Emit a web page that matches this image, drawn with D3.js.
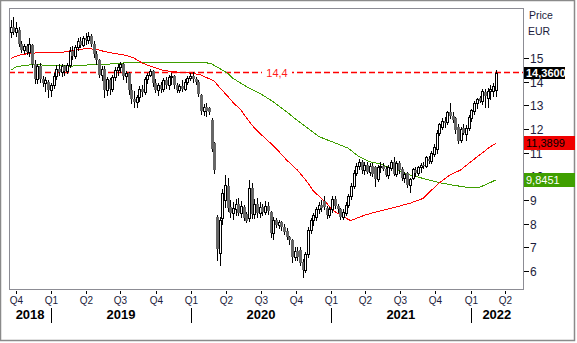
<!DOCTYPE html>
<html>
<head>
<meta charset="utf-8">
<script src="https://cdn.jsdelivr.net/npm/d3@7"></script>
<style>
  html, body { margin: 0; padding: 0; background: #fff; }
  svg { display: block; }
  text { font-family: "Liberation Sans", Arial, sans-serif; }
</style>
</head>
<body>
<svg id="chart" width="577" height="343"></svg>
<script>
// Weekly candles, first week starting Monday 2018-09-17
const firstWeek = "2018-09-17";

const opens = [
  16.10,16.30,16.10,16.20,15.60,15.35,15.50,15.25,15.55,14.75,
  14.10,14.65,14.10,13.95,14.00,13.65,13.85,14.25,14.55,14.40,
  14.65,14.45,14.70,15.30,15.10,15.45,15.70,15.55,15.85,15.75,
  15.95,15.60,15.15,14.90,14.30,14.55,13.65,14.05,13.70,14.20,
  14.50,14.60,14.75,14.25,14.35,13.65,13.25,13.15,13.35,13.70,
  13.55,14.10,14.30,14.45,13.95,13.65,13.85,13.70,14.05,13.85,
  14.20,14.25,13.85,13.65,13.80,13.70,14.00,14.15,14.25,14.10,
  14.00,13.45,12.75,12.95,12.90,12.40,11.40,8.30,6.75,8.25,
  9.00,9.60,8.70,8.45,8.60,8.85,8.45,8.70,8.40,8.25,
  9.50,8.40,8.85,8.45,8.70,8.50,8.75,8.50,7.60,8.15,
  7.95,8.05,7.85,7.70,7.45,7.30,6.60,6.85,6.90,6.40,
  6.05,6.70,7.75,8.15,8.30,8.60,8.80,8.95,8.65,8.35,
  8.60,9.05,8.75,8.60,8.30,8.45,8.80,9.15,9.60,10.15,
  10.45,10.60,10.25,10.50,10.20,10.45,10.40,9.90,10.40,10.45,
  10.30,10.05,10.35,10.60,10.10,10.55,10.30,9.95,10.15,9.65,
  9.95,10.25,10.15,10.40,10.50,10.45,10.75,10.65,10.95,11.15,
  11.85,12.10,12.35,12.30,12.70,12.55,12.45,12.10,11.55,12.05,
  11.80,12.05,12.45,12.75,13.10,13.30,13.20,13.55,13.30,13.60,
  13.60,13.65
];
const highs = [
  16.60,16.75,16.50,16.30,15.70,15.60,15.60,15.85,15.60,14.90,
  14.75,14.80,14.25,14.20,14.05,13.95,14.35,14.70,14.75,14.75,
  14.70,14.80,15.45,15.50,15.55,15.85,15.90,15.95,16.05,16.10,
  16.00,15.70,15.30,14.95,14.65,14.65,14.20,14.15,14.30,14.60,
  14.75,14.85,14.80,14.45,14.40,13.90,13.60,13.45,13.80,13.85,
  14.20,14.35,14.55,14.50,14.10,13.95,14.00,14.15,14.20,14.30,
  14.35,14.30,13.95,13.90,14.05,14.10,14.25,14.35,14.40,14.20,
  14.05,13.50,13.05,13.10,12.95,12.45,11.45,8.35,8.30,9.45,
  10.05,9.95,9.00,8.90,9.05,9.10,8.95,8.80,8.50,9.85,
  9.70,9.05,9.10,8.90,8.85,8.95,8.90,8.55,8.30,8.25,
  8.15,8.10,8.00,7.80,7.50,7.35,7.00,7.00,7.00,6.50,
  6.80,7.85,8.25,8.45,8.70,8.90,9.00,9.15,8.75,8.70,
  9.15,9.15,8.85,8.65,8.60,8.90,9.25,9.70,10.25,10.55,
  10.75,10.70,10.60,10.60,10.55,10.55,10.45,10.50,10.60,10.55,
  10.45,10.50,10.70,10.80,10.65,10.65,10.40,10.20,10.20,9.95,
  10.35,10.40,10.45,10.55,10.60,10.85,10.85,11.05,11.35,11.95,
  12.25,12.45,12.50,12.75,13.10,12.70,12.50,12.20,12.10,12.20,
  12.15,12.60,12.85,13.20,13.30,13.40,13.70,13.70,13.75,13.85,
  13.95,14.50
];
const lows = [
  15.90,16.00,15.95,15.50,15.25,15.20,15.15,15.10,14.60,13.95,
  13.95,14.00,13.80,13.60,13.35,13.40,13.75,14.10,14.30,14.25,
  14.30,14.35,14.60,14.95,15.00,15.35,15.45,15.50,15.60,15.65,
  15.50,15.05,14.75,14.20,14.05,13.35,13.45,13.50,13.60,14.05,
  14.30,14.40,14.10,14.00,13.50,13.10,12.95,12.95,13.20,13.40,
  13.50,13.95,14.25,13.80,13.55,13.45,13.55,13.60,13.75,13.70,
  13.90,13.75,13.55,13.55,13.60,13.65,13.90,14.05,14.00,13.90,
  13.40,12.65,12.60,12.55,12.65,11.05,10.15,6.45,6.25,8.00,
  8.70,8.55,8.30,8.20,8.35,8.35,8.30,8.15,8.05,8.10,
  8.25,8.25,8.30,8.30,8.35,8.40,8.40,7.45,7.35,7.85,
  7.80,7.75,7.55,7.35,7.15,6.40,6.45,6.45,6.25,5.75,
  5.95,6.60,7.60,7.95,8.15,8.45,8.55,8.60,8.25,8.30,
  8.50,8.65,8.50,8.20,8.20,8.35,8.70,9.05,9.50,10.05,
  10.30,10.15,10.10,10.15,10.05,10.00,9.60,9.80,10.20,10.25,
  10.00,9.95,10.25,10.05,10.00,10.15,9.85,9.75,9.55,9.35,
  9.90,10.00,10.05,10.20,10.35,10.40,10.55,10.55,10.85,11.00,
  11.75,12.00,12.10,12.20,12.45,12.30,11.85,11.40,11.45,11.80,
  11.55,11.95,12.35,12.65,12.90,13.15,13.05,12.95,12.95,13.25,
  13.40,13.40
];
const closes = [
  16.30,16.10,16.25,15.60,15.35,15.50,15.25,15.60,14.75,14.10,
  14.65,14.10,13.95,14.05,13.65,13.85,14.25,14.55,14.40,14.65,
  14.45,14.70,15.30,15.10,15.45,15.70,15.55,15.85,15.75,15.95,
  15.60,15.15,14.90,14.30,14.55,13.65,14.10,13.70,14.20,14.50,
  14.60,14.75,14.25,14.35,13.65,13.25,13.15,13.35,13.70,13.55,
  14.10,14.30,14.45,13.95,13.65,13.85,13.70,14.05,13.85,14.20,
  14.25,13.85,13.65,13.80,13.70,14.00,14.15,14.25,14.10,14.00,
  13.50,12.75,12.95,12.75,12.70,11.15,10.25,6.95,8.15,9.30,
  9.65,8.65,8.45,8.65,8.85,8.45,8.75,8.25,8.10,9.50,
  8.40,8.85,8.45,8.70,8.50,8.75,8.55,7.60,8.15,7.95,
  8.05,7.85,7.65,7.45,7.30,6.60,6.85,6.60,6.35,6.05,
  6.70,7.75,8.15,8.35,8.60,8.80,8.65,8.70,8.35,8.60,
  9.05,8.75,8.60,8.30,8.50,8.80,9.15,9.60,10.15,10.45,
  10.60,10.25,10.50,10.20,10.45,10.10,9.90,10.40,10.45,10.30,
  10.05,10.40,10.60,10.10,10.55,10.25,9.95,10.10,9.65,9.90,
  10.30,10.15,10.40,10.50,10.45,10.80,10.65,11.00,11.25,11.85,
  12.20,12.35,12.25,12.70,12.55,12.40,11.95,11.50,12.00,11.85,
  12.05,12.50,12.80,13.10,13.25,13.20,13.60,13.40,13.60,13.70,
  13.80,14.36
];

// Moving averages, sampled at week numbers
const fastWeeks = [0,2,4,9,14,19,21,25,29,33,35,39,43,46,49,53,57,62,68,71,73,76,78,81,83,86,88,91,93,99,
  103,107,111,113,116,118,120,123,126,127,130,133,138,142,149,154,156,160,164,168,171,175,179,181];
const fastMA = [14.98,15.07,15.15,15.21,15.23,15.23,15.28,15.36,15.40,15.34,15.27,15.19,15.11,15.00,14.79,
  14.62,14.47,14.41,14.35,14.28,14.18,14.03,13.75,13.39,13.12,12.80,12.47,12.04,11.82,11.19,
  10.69,10.27,9.72,9.38,9.07,8.86,8.58,8.37,8.18,8.13,8.27,8.39,8.54,8.65,8.86,
  9.07,9.30,9.72,10.06,10.27,10.55,10.90,11.25,11.3899];
const slowWeeks = [0,2,5,9,14,19,22,26,31,35,39,43,46,52,63,73,75,78,81,83,88,93,98,103,106,
  111,115,120,126,130,134,138,142,149,155,160,165,170,175,178,181];
const slowMA = [14.48,14.62,14.69,14.72,14.69,14.68,14.65,14.69,14.72,14.73,14.76,14.80,14.83,14.83,14.81,
  14.80,14.75,14.56,14.35,14.14,13.79,13.51,13.15,12.73,12.45,
  12.03,11.68,11.46,11.19,10.83,10.62,10.52,10.34,10.06,9.88,9.73,9.63,9.54,9.54,9.68,9.8451];

// Horizontal level line
const levels = [14.4];

// Axis labels
const priceTicks = [6,7,8,9,10,11,12,13,14,15];
const quarterStarts = ["2018-10-01","2019-01-01","2019-04-01","2019-07-01","2019-10-01",
  "2020-01-01","2020-04-01","2020-07-01","2020-10-01","2021-01-01","2021-04-01","2021-07-01",
  "2021-10-01","2022-01-01","2022-04-01"];
const quarterLabels = ["Q4","Q1","Q2","Q3","Q4","Q1","Q2","Q3","Q4","Q1","Q2","Q3","Q4","Q1","Q2"];
const yearLabels = ["2018","2019","2020","2021","2022"];
const axisTitle = ["Price","EUR"];

// ---------------------------------------------------------------
const svg = d3.select("#chart");
const W = 577, H = 343;
const plot = { left: 9, top: 8, right: 523, bottom: 289 };
const parse = d3.timeParse("%Y-%m-%d");
const start = parse(firstWeek);
const weekDate = i => d3.timeDay.offset(start, 7 * i);

const x = d3.scaleTime()
  .domain([parse("2018-10-01"), parse("2022-01-01")])
  .range([16, 470.7]);
const y = d3.scaleLinear().domain([6, 15]).range([271, 58]);

const loc = d3.formatLocale({ decimal: ",", thousands: ".", grouping: [3], currency: ["", " €"] });
const f4 = loc.format(".4f"), f1 = loc.format(".1f");

// outer frame
svg.append("rect").attr("x", 0).attr("y", 0).attr("width", W).attr("height", H).attr("fill", "#fff");
svg.append("rect").attr("x", 0.5).attr("y", 0.5).attr("width", 574).attr("height", 340)
  .attr("fill", "none").attr("stroke", "#8a8a8a").attr("stroke-width", 1.5);

// plot frame
svg.append("rect")
  .attr("x", plot.left + 0.5).attr("y", plot.top + 0.5)
  .attr("width", plot.right - plot.left).attr("height", plot.bottom - plot.top)
  .attr("fill", "#fff").attr("stroke", "#8c8c94").attr("stroke-width", 1);

svg.append("clipPath").attr("id", "plotclip").append("rect")
  .attr("x", plot.left + 1).attr("y", plot.top + 1)
  .attr("width", plot.right - plot.left - 1).attr("height", plot.bottom - plot.top - 1);

const g = svg.append("g").attr("clip-path", "url(#plotclip)");

// level line with its label
levels.forEach(v => {
  const ly = Math.round(y(v)) + 0.5;
  g.append("line").attr("x1", plot.left).attr("x2", plot.right).attr("y1", ly).attr("y2", ly)
    .attr("stroke", "#ff0000").attr("stroke-width", 1.6).attr("stroke-dasharray", "6,3");
  g.append("rect").attr("x", 262).attr("y", ly - 7).attr("width", 30).attr("height", 14).attr("fill", "#fff");
  g.append("text").attr("x", 277).attr("y", ly + 4).attr("text-anchor", "middle")
    .attr("font-size", 11).attr("fill", "#ff1a1a").text(f1(v));
});

// moving averages
const maLine = d3.line().x(d => x(weekDate(d[0]))).y(d => y(d[1]));
g.append("path").datum(slowWeeks.map((w, i) => [w, slowMA[i]]))
  .attr("d", maLine).attr("fill", "none").attr("stroke", "#3f9f00").attr("stroke-width", 1)
  .attr("shape-rendering", "crispEdges");
g.append("path").datum(fastWeeks.map((w, i) => [w, fastMA[i]]))
  .attr("d", maLine).attr("fill", "none").attr("stroke", "#ff0000").attr("stroke-width", 1)
  .attr("shape-rendering", "crispEdges");

// candles
const candles = closes.map((c, i) => ({ date: weekDate(i), o: opens[i], h: highs[i], l: lows[i], c }));
const cg = g.append("g").attr("shape-rendering", "crispEdges");
candles.forEach(d => {
  const cx = Math.round(x(d.date));
  cg.append("line").attr("x1", cx + 0.5).attr("x2", cx + 0.5)
    .attr("y1", Math.round(y(d.h))).attr("y2", Math.round(y(d.l)) + 1)
    .attr("stroke", "#000").attr("stroke-width", 1);
  const yTop = Math.round(y(Math.max(d.o, d.c)));
  const yBot = Math.round(y(Math.min(d.o, d.c)));
  if (d.c >= d.o) {
    cg.append("rect").attr("x", cx - 0.5).attr("y", yTop + 0.5)
      .attr("width", 2).attr("height", Math.max(yBot - yTop, 1))
      .attr("fill", "#fff").attr("stroke", "#000").attr("stroke-width", 1);
  } else {
    cg.append("rect").attr("x", cx - 1).attr("y", yTop)
      .attr("width", 3).attr("height", Math.max(yBot - yTop, 1))
      .attr("fill", "#666666");
  }
});

// right price axis
const ax = svg.append("g");
priceTicks.forEach(v => {
  const ty = Math.round(y(v)) + 0.5;
  ax.append("line").attr("x1", plot.right + 1).attr("x2", plot.right + 6).attr("y1", ty).attr("y2", ty)
    .attr("stroke", "#000").attr("shape-rendering", "crispEdges");
  ax.append("text").attr("x", 530).attr("y", ty + 4.5).attr("font-size", 12)
    .attr("fill", "#1c1c3c").text(v);
});
ax.append("text").attr("x", 529).attr("y", 19).attr("font-size", 10.5).attr("fill", "#1c1c3c").text(axisTitle[0]);
ax.append("text").attr("x", 528).attr("y", 35).attr("font-size", 10.5).attr("fill", "#1c1c3c").text(axisTitle[1]);

// last-value boxes
const lastClose = closes[closes.length - 1];
const boxes = [
  { v: slowMA[slowMA.length - 1], fill: "#3f9f00", color: "#fff", bold: false, w: 51, h: 14 },
  { v: fastMA[fastMA.length - 1], fill: "#f00000", color: "#000", bold: false, w: 51, h: 14 },
  { v: lastClose, fill: "#000", color: "#fff", bold: true, w: 41, h: 12 }
];
boxes.forEach(b => {
  const by = y(b.v);
  ax.append("rect").attr("x", plot.right + 1).attr("y", Math.round(by - b.h / 2))
    .attr("width", b.w).attr("height", b.h).attr("fill", b.fill);
  ax.append("text").attr("x", plot.right + 3).attr("y", Math.round(by) + 4)
    .attr("font-size", 11).attr("font-weight", b.bold ? "bold" : "normal")
    .attr("fill", b.color).text(f4(b.v));
});

// time axis: quarters
const tx = svg.append("g");
quarterStarts.forEach((s, i) => {
  const qx = Math.round(x(parse(s))) + 0.5;
  tx.append("line").attr("x1", qx).attr("x2", qx).attr("y1", 291).attr("y2", 294)
    .attr("stroke", "#000").attr("shape-rendering", "crispEdges");
  tx.append("text").attr("x", qx).attr("y", 304).attr("text-anchor", "middle")
    .attr("font-size", 10).attr("fill", "#1c1c3c").text(quarterLabels[i]);
});

// time axis: years with separators
yearLabels.forEach((yr, i) => {
  const y0 = +yr;
  const a = Math.max(plot.left, x(new Date(y0, 0, 1)));
  const b = Math.min(plot.right, x(new Date(y0 + 1, 0, 1)));
  tx.append("text").attr("x", (a + b) / 2).attr("y", 319).attr("text-anchor", "middle")
    .attr("font-size", 13).attr("font-weight", "bold").attr("fill", "#000").text(yr);
  if (i > 0) {
    const sx = Math.round(x(new Date(y0, 0, 1))) + 0.5;
    tx.append("line").attr("x1", sx).attr("x2", sx).attr("y1", 308).attr("y2", 323)
      .attr("stroke", "#000").attr("stroke-width", 1).attr("shape-rendering", "crispEdges");
  }
});
</script>
</body>
</html>
